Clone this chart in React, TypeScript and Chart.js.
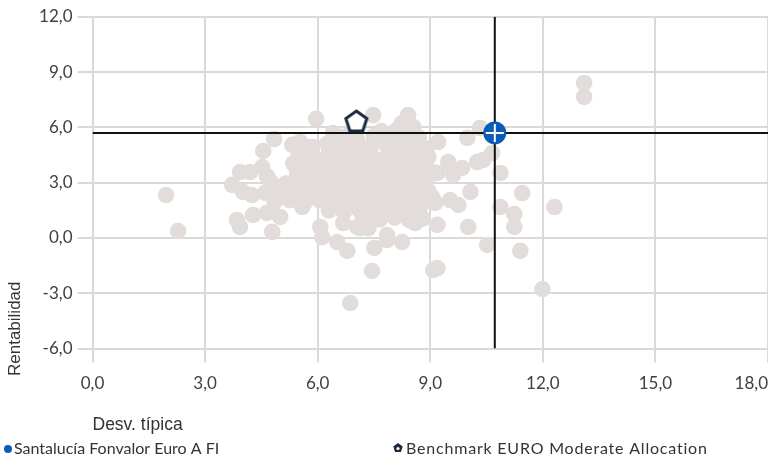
import { useEffect, useRef } from "react";
import { Chart, registerables } from "chart.js";

Chart.register(...registerables);

// Peer funds: standard deviation (x) and return (y)
const peerDesv = [
  1.96, 2.28, 3.72, 3.93, 4.2, 4.52, 4.55, 4.84, 4.01, 4.25, 3.85, 3.93, 4.28, 4.65, 4.79, 5.0,
  5.32, 5.53, 5.96, 6.41, 5.59, 6.07, 6.12, 6.52, 6.79, 7.51, 7.85, 8.25, 7.45, 6.87, 9.08, 9.19,
  10.52, 11.4, 11.99, 13.1, 13.1, 7.48, 8.41, 8.25, 8.55, 9.21, 9.99, 10.33, 10.65, 10.41, 10.25,
  10.87, 11.45, 12.31, 10.87, 11.24, 11.24, 10.07, 9.48, 9.85, 9.61, 9.0, 9.19, 9.05, 9.13, 9.53,
  9.75, 9.19, 10.01, 7.85, 8.6, 7.21, 7.05, 6.68, 7.13, 7.35, 8.55, 9.08, 4.65,
  6.7, 7.05, 7.5, 7.9, 8.3, 8.7, 6.9, 7.7, 8.1,
  5.85, 6.25, 6.6, 7.0, 7.4, 7.8, 8.2, 8.55, 8.9,
  5.5, 5.9, 6.3, 6.7, 7.1, 7.5, 7.9, 8.3, 8.65, 8.95,
  5.35, 5.75, 6.15, 6.55, 6.95, 7.35, 7.75, 8.15, 8.5, 8.85,
  5.45, 5.85, 6.25, 6.65, 7.05, 7.45, 7.85, 8.25, 8.7,
  4.75, 5.15, 5.55, 5.95, 6.35, 6.75, 7.15, 7.55, 7.95, 8.35, 8.8,
  4.6, 5.0, 5.4, 5.8, 6.2, 6.6, 7.0, 7.4, 7.8, 8.2, 8.6, 8.95,
  4.85, 5.25, 5.65, 6.05, 6.45, 6.85, 7.25, 7.65, 8.05, 8.45, 8.8,
  6.3, 6.7, 7.1, 7.5, 7.9, 8.3, 8.7,
  7.65, 8.05, 8.45, 8.8, 7.2,
];
const peerRent = [
  2.33, 0.38, 2.88, 3.58, 3.58, 3.85, 4.72, 5.37, 2.5, 2.33, 0.98, 0.6, 1.25, 1.36, 0.33, 1.14,
  5.05, 5.21, 6.46, 5.7, 1.68, 0.6, 0.05, -0.22, -0.7, -0.54, -0.11, -0.22, -1.79, -3.53, -1.74, -1.63,
  -0.38, -0.7, -2.77, 8.41, 7.65, 6.67, 6.67, 6.24, 6.02, 5.21, 5.43, 5.97, 4.61, 4.23, 4.12,
  3.53, 2.44, 1.68, 1.68, 1.3, 0.6, 2.5, 4.12, 3.8, 3.42, 3.42, 3.53, 2.22, 1.9, 2.06,
  1.79, 0.71, 0.6, 0.16, 0.81, 0.71, 0.6, 0.81, 0.54, 0.54, 3.26, 3.58, 3.35,
  5.5, 5.35, 5.55, 5.4, 5.6, 5.45, 5.75, 5.8, 5.85,
  4.95, 5.1, 4.9, 5.05, 4.95, 5.1, 4.9, 5.05, 4.85,
  4.55, 4.4, 4.6, 4.45, 4.55, 4.35, 4.6, 4.45, 4.6, 4.4,
  4.05, 3.95, 4.1, 3.9, 4.05, 3.95, 4.1, 3.9, 4.05, 3.95,
  3.5, 3.6, 3.45, 3.55, 3.4, 3.6, 3.45, 3.55, 3.4,
  3.05, 2.95, 3.1, 2.9, 3.05, 2.95, 3.1, 2.9, 3.05, 2.95, 3.1,
  2.45, 2.6, 2.4, 2.55, 2.45, 2.6, 2.4, 2.55, 2.45, 2.6, 2.4, 2.55,
  1.95, 2.05, 1.9, 2.05, 1.95, 2.1, 1.9, 2.05, 1.95, 2.1, 1.9,
  1.5, 1.4, 1.55, 1.45, 1.55, 1.4, 1.5,
  1.0, 1.1, 0.95, 1.05, 1.1,
];

const fundName = "Santalucía Fonvalor Euro A FI";
const fundDesv = [10.72];
const fundRent = [5.7];

const benchName = "Benchmark EURO Moderate Allocation";
const benchDesv = [7.03];
const benchRent = [6.35];

const xTickValues = [0, 3, 6, 9, 12, 15, 18];
const yTickValues = [-6, -3, 0, 3, 6, 9, 12];

const xTitle = "Desv. típica";
const yTitle = "Rentabilidad";

const fmt = (v: number) => Number(v).toFixed(1).replace(".", ",");

function makePentagon(): HTMLCanvasElement {
  const c = document.createElement("canvas");
  c.width = 30;
  c.height = 30;
  const g = c.getContext("2d")!;
  const cx = 15, cy = 16, r = 11;
  g.beginPath();
  for (let i = 0; i < 5; i++) {
    const a = -Math.PI / 2 + (i * 2 * Math.PI) / 5;
    const px = cx + r * Math.cos(a);
    const py = cy + r * Math.sin(a);
    if (i === 0) g.moveTo(px, py);
    else g.lineTo(px, py);
  }
  g.closePath();
  g.fillStyle = "#ffffff";
  g.fill();
  g.lineWidth = 3;
  g.lineJoin = "miter";
  g.strokeStyle = "#1b2a3d";
  g.stroke();
  return c;
}

const TICK_FONT = { family: "Lato", size: 17 };
const TICK_COLOR = "#404040";
const X_TICK_LEN = 14;
const X_TICK_PAD = 10.5;
const TITLE_FAMILY = '"Liberation Sans", Arial, sans-serif';

export default function App() {
  const ref = useRef<HTMLCanvasElement | null>(null);

  useEffect(() => {
    document.body.style.margin = "0";
    if (!ref.current) return;

    const overlay = {
      id: "overlay",
      afterDraw(chart: any) {
        const ctx = chart.ctx as CanvasRenderingContext2D;
        const xs = chart.scales.x;
        ctx.save();
        // last x tick label, kept inside the canvas
        ctx.font = `${TICK_FONT.size}px ${TICK_FONT.family}`;
        ctx.fillStyle = TICK_COLOR;
        ctx.textAlign = "right";
        ctx.textBaseline = "middle";
        ctx.fillText(
          fmt(xTickValues[xTickValues.length - 1]),
          chart.width,
          xs.top + X_TICK_LEN + X_TICK_PAD + (TICK_FONT.size * 1.2) / 2
        );

        // y axis title
        ctx.save();
        ctx.translate(15, 376);
        ctx.rotate(-Math.PI / 2);
        ctx.font = `17px ${TITLE_FAMILY}`;
        ctx.fillStyle = "#333333";
        ctx.textAlign = "left";
        ctx.textBaseline = "middle";
        ctx.fillText(yTitle, 0, 0);
        ctx.restore();

        // legend
        const ly = 449;
        ctx.fillStyle = "#0a5cb8";
        ctx.beginPath();
        ctx.arc(8, ly, 4, 0, Math.PI * 2);
        ctx.fill();
        ctx.font = "16px Lato";
        ctx.fillStyle = "#333333";
        ctx.textAlign = "left";
        ctx.textBaseline = "middle";
        ctx.fillText(fundName, 14, ly);

        const bx = 398, by = 448;
        ctx.beginPath();
        for (let i = 0; i < 5; i++) {
          const a = -Math.PI / 2 + (i * 2 * Math.PI) / 5;
          const px = bx + 5 * Math.cos(a);
          const py = by + 5 * Math.sin(a);
          if (i === 0) ctx.moveTo(px, py);
          else ctx.lineTo(px, py);
        }
        ctx.closePath();
        ctx.fillStyle = "#1b2a3d";
        ctx.fill();
        ctx.beginPath();
        ctx.arc(bx, by + 0.5, 1.6, 0, Math.PI * 2);
        ctx.fillStyle = "#ffffff";
        ctx.fill();
        ctx.fillStyle = "#333333";
        (ctx as any).letterSpacing = "0.8px";
        ctx.fillText(benchName, 406, ly);
        (ctx as any).letterSpacing = "0px";
        ctx.restore();
      },
    };

    const chart = new Chart(ref.current, {
      type: "scatter",
      data: {
        datasets: [
          {
            label: "cross",
            data: fundDesv.map((x, i) => ({ x, y: fundRent[i] })),
            pointStyle: "cross",
            pointRadius: 9,
            borderColor: "#ffffff",
            borderWidth: 2,
            backgroundColor: "#ffffff",
            order: 0,
          },
          {
            label: fundName,
            data: fundDesv.map((x, i) => ({ x, y: fundRent[i] })),
            pointRadius: 11.5,
            backgroundColor: "#0a5cb8",
            borderWidth: 0,
            order: 1,
          },
          {
            label: benchName,
            data: benchDesv.map((x, i) => ({ x, y: benchRent[i] })),
            pointStyle: makePentagon(),
            pointRadius: 12,
            order: 2,
          },
          {
            label: "vline",
            data: [
              { x: fundDesv[0], y: yTickValues[0] },
              { x: fundDesv[0], y: yTickValues[yTickValues.length - 1] },
            ],
            showLine: true,
            pointRadius: 0,
            borderColor: "#111111",
            borderWidth: 2,
            order: 3,
          },
          {
            label: "hline",
            data: [
              { x: xTickValues[0], y: fundRent[0] },
              { x: xTickValues[xTickValues.length - 1], y: fundRent[0] },
            ],
            showLine: true,
            pointRadius: 0,
            borderColor: "#111111",
            borderWidth: 2,
            order: 3,
          },
          {
            label: "peers",
            data: peerDesv.map((x, i) => ({ x, y: peerRent[i] })),
            pointRadius: 8.3,
            backgroundColor: "#e2dddb",
            borderWidth: 0,
            order: 4,
          },
        ],
      },
      options: {
        responsive: false,
        animation: false,
        layout: { autoPadding: false, padding: { top: 16.8, left: 0, right: 0, bottom: 0 } },
        plugins: {
          legend: { display: false },
          tooltip: { enabled: false },
        },
        scales: {
          x: {
            type: "linear",
            min: xTickValues[0],
            max: xTickValues[xTickValues.length - 1],
            afterBuildTicks: (s: any) => {
              s.ticks = xTickValues.map((v) => ({ value: v }));
            },
            ticks: {
              callback: (v: any) => (Number(v) === xTickValues[xTickValues.length - 1] ? "" : fmt(Number(v))),
              font: TICK_FONT,
              color: TICK_COLOR,
              padding: X_TICK_PAD,
              maxRotation: 0,
              autoSkip: false,
            },
            grid: { color: "#dadada", lineWidth: 2, tickLength: X_TICK_LEN, drawTicks: true },
            border: { display: false },
            title: {
              display: true,
              text: xTitle,
              align: "start",
              color: "#333333",
              font: { family: TITLE_FAMILY, size: 17.5 },
              padding: { top: 0, bottom: 23.5 },
            },
            afterFit: (s: any) => {
              s.height = 110.4;
              s.paddingLeft = 0;
              s.paddingRight = 0;
            },
          },
          y: {
            type: "linear",
            min: yTickValues[0],
            max: yTickValues[yTickValues.length - 1],
            afterBuildTicks: (s: any) => {
              s.ticks = yTickValues.map((v) => ({ value: v }));
            },
            ticks: {
              callback: (v: any) => fmt(Number(v)),
              font: TICK_FONT,
              color: TICK_COLOR,
              padding: 5,
              autoSkip: false,
            },
            grid: { color: "#dadada", lineWidth: 2, tickLength: 15, drawTicks: true },
            border: { display: false },
            afterFit: (s: any) => {
              s.width = 92.5;
              s.paddingTop = 0;
              s.paddingBottom = 0;
            },
          },
        },
      },
      plugins: [overlay],
    });

    return () => chart.destroy();
  }, []);

  return (
    <div style={{ width: 768, height: 459 }}>
      <canvas ref={ref} width={768} height={459} style={{ display: "block" }} />
    </div>
  );
}
